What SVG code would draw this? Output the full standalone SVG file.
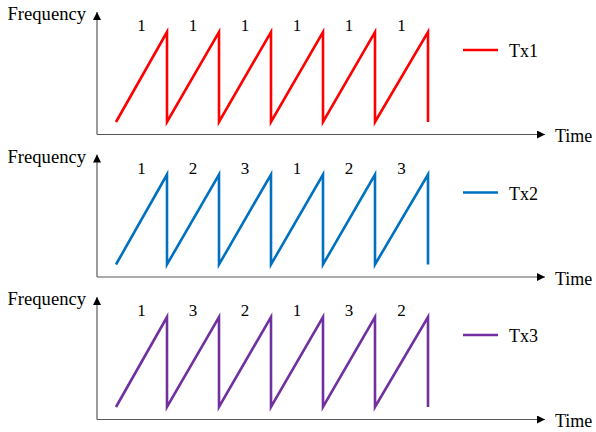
<svg xmlns="http://www.w3.org/2000/svg" width="596" height="432" viewBox="0 0 596 432">
<style>
text{font-family:"Liberation Serif","Times New Roman",serif;fill:#000}
.lbl{font-size:18px}
.freq{font-size:18.6px}
.num{font-size:17px;text-anchor:middle}
.axis{fill:none;stroke:#595959;stroke-width:1.2}
.saw{fill:none;stroke-width:2.6;stroke-linejoin:miter}
</style>
<defs>
<marker id="ah" viewBox="0 0 10 10" refX="10" refY="5" markerWidth="8" markerHeight="8" markerUnits="userSpaceOnUse" orient="auto"><path d="M0,0 L10,5 L0,10 z" fill="#000"/></marker>
</defs>
<rect width="596" height="432" fill="#fff"/>
<g id="panel-tx1">
<text class="freq" x="7.5" y="20">Frequency</text>
<text class="lbl" x="555" y="142">Time</text>
<g class="connectors">
<path class="axis" d="M97,134.5 L97,12" marker-end="url(#ah)"/>
<path class="axis" d="M97,134.5 L545,134.5" marker-end="url(#ah)"/>
</g>
<path class="saw" stroke="#FF0000" d="M116,122 L167,32 L167,122 L219,32 L219,122 L271,32 L271,122 L323,32 L323,122 L375,32 L375,122 L428,32 L428,122"/>
<g class="num-labels"><text class="num" x="141.5" y="31">1</text><text class="num" x="193" y="31">1</text><text class="num" x="245" y="31">1</text><text class="num" x="297" y="31">1</text><text class="num" x="349" y="31">1</text><text class="num" x="401.5" y="31">1</text></g>
<g id="legend-tx1"><line x1="463" y1="50" x2="498" y2="50" stroke="#FF0000" stroke-width="2.6"/><text class="lbl" x="509" y="57">Tx1</text></g>
</g>
<g id="panel-tx2" transform="translate(0,142.5)">
<text class="freq" x="7.5" y="20">Frequency</text>
<text class="lbl" x="555" y="142">Time</text>
<g class="connectors">
<path class="axis" d="M97,134.5 L97,12" marker-end="url(#ah)"/>
<path class="axis" d="M97,134.5 L545,134.5" marker-end="url(#ah)"/>
</g>
<path class="saw" stroke="#0070C0" d="M116,122 L167,32 L167,122 L219,32 L219,122 L271,32 L271,122 L323,32 L323,122 L375,32 L375,122 L428,32 L428,122"/>
<g class="num-labels"><text class="num" x="141.5" y="31">1</text><text class="num" x="193" y="31">2</text><text class="num" x="245" y="31">3</text><text class="num" x="297" y="31">1</text><text class="num" x="349" y="31">2</text><text class="num" x="401.5" y="31">3</text></g>
<g id="legend-tx2"><line x1="463" y1="50" x2="498" y2="50" stroke="#0070C0" stroke-width="2.6"/><text class="lbl" x="509" y="57">Tx2</text></g>
</g>
<g id="panel-tx3" transform="translate(0,285)">
<text class="freq" x="7.5" y="20">Frequency</text>
<text class="lbl" x="555" y="142">Time</text>
<g class="connectors">
<path class="axis" d="M97,134.5 L97,12" marker-end="url(#ah)"/>
<path class="axis" d="M97,134.5 L545,134.5" marker-end="url(#ah)"/>
</g>
<path class="saw" stroke="#7030A0" d="M116,122 L167,32 L167,122 L219,32 L219,122 L271,32 L271,122 L323,32 L323,122 L375,32 L375,122 L428,32 L428,122"/>
<g class="num-labels"><text class="num" x="141.5" y="31">1</text><text class="num" x="193" y="31">3</text><text class="num" x="245" y="31">2</text><text class="num" x="297" y="31">1</text><text class="num" x="349" y="31">3</text><text class="num" x="401.5" y="31">2</text></g>
<g id="legend-tx3"><line x1="463" y1="50" x2="498" y2="50" stroke="#7030A0" stroke-width="2.6"/><text class="lbl" x="509" y="57">Tx3</text></g>
</g>
</svg>
